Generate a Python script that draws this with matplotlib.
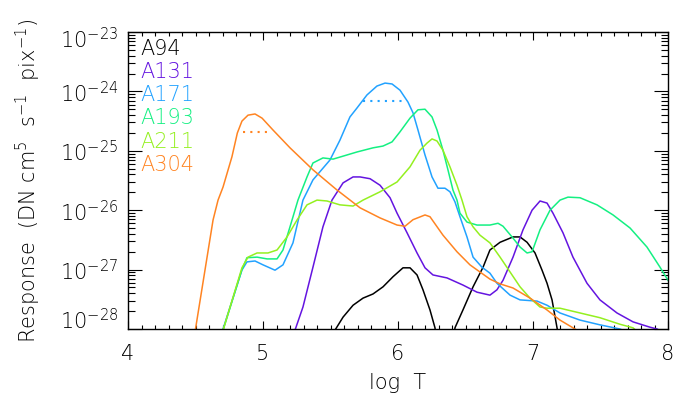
import numpy as np
import matplotlib
matplotlib.use("Agg")
import matplotlib.pyplot as plt
import matplotlib.transforms as mtransforms
from matplotlib.ticker import LogLocator, NullFormatter, MultipleLocator

# log T and log10(response)
t94 = [5.50, 5.533, 5.593, 5.667, 5.741, 5.815, 5.889, 5.963, 6.037, 6.089, 6.141, 6.185,
       6.237, 6.274, 6.35, 6.422, 6.481, 6.556, 6.630, 6.681, 6.756, 6.852, 6.904, 6.956,
       7.015, 7.067, 7.104, 7.141, 7.178, 7.22]
r94 = [-28.5, -28.02, -27.80, -27.60, -27.48, -27.41, -27.29, -27.12, -26.97, -26.97, -27.09, -27.34,
       -27.68, -27.98, -29.5, -27.98, -27.68, -27.29, -26.96, -26.67, -26.54, -26.45, -26.45, -26.54,
       -26.72, -27.01, -27.23, -27.51, -27.98, -28.6]

t131 = [5.20, 5.237, 5.296, 5.370, 5.444, 5.511, 5.593, 5.667, 5.719, 5.793, 5.867, 5.941,
        5.993, 6.067, 6.141, 6.200, 6.259, 6.363, 6.481, 6.585, 6.681, 6.733, 6.778, 6.852,
        6.926, 6.993, 7.052, 7.104, 7.148, 7.222, 7.296, 7.400, 7.496, 7.622, 7.741, 7.867,
        7.919, 8.0]
r131 = [-28.6, -28.02, -27.63, -26.96, -26.28, -25.83, -25.54, -25.44, -25.44, -25.47, -25.58, -25.79,
        -26.05, -26.38, -26.72, -26.97, -27.09, -27.14, -27.26, -27.38, -27.43, -27.34, -27.18, -26.79,
        -26.33, -26.00, -25.845, -25.88, -26.05, -26.38, -26.79, -27.23, -27.51, -27.73, -27.88, -27.97,
        -28.0, -28.1]

t171 = [4.68, 4.704, 4.844, 4.881, 4.941, 5.000, 5.089, 5.148, 5.222, 5.296, 5.370, 5.496,
        5.570, 5.644, 5.696, 5.770, 5.844, 5.904, 5.956, 6.015, 6.074, 6.111, 6.148, 6.200,
        6.252, 6.296, 6.348, 6.385, 6.422, 6.459, 6.511, 6.556, 6.622, 6.681, 6.733, 6.830,
        6.904, 7.030, 7.104, 7.200, 7.348, 7.496, 7.644, 7.75]
r171 = [-28.4, -28.0, -27.007, -26.87, -26.855, -26.92, -27.01, -26.92, -26.55, -25.83, -25.49, -25.155,
        -24.82, -24.43, -24.28, -24.06, -23.91, -23.86, -23.875, -23.98, -24.18, -24.36, -24.65, -25.07,
        -25.44, -25.63, -25.63, -25.69, -25.86, -26.11, -26.45, -26.79, -26.96, -27.06, -27.23, -27.43,
        -27.51, -27.53, -27.60, -27.73, -27.85, -27.93, -28.0, -28.1]

t193 = [4.68, 4.704, 4.844, 4.881, 4.956, 5.030, 5.104, 5.148, 5.200, 5.259, 5.326, 5.370,
        5.444, 5.519, 5.593, 5.696, 5.815, 5.889, 5.956, 6.015, 6.089, 6.148, 6.200, 6.252,
        6.289, 6.333, 6.370, 6.407, 6.437, 6.459, 6.511, 6.585, 6.681, 6.741, 6.778, 6.852,
        6.904, 6.956, 6.993, 7.052, 7.126, 7.200, 7.259, 7.348, 7.474, 7.593, 7.719, 7.844,
        7.941, 8.0]
r193 = [-28.4, -28.02, -27.0, -26.80, -26.79, -26.82, -26.82, -26.67, -26.28, -25.83, -25.44, -25.205,
        -25.12, -25.14, -25.09, -25.02, -24.95, -24.92, -24.85, -24.68, -24.45, -24.31, -24.30, -24.43,
        -24.65, -24.99, -25.32, -25.66, -25.83, -26.05, -26.20, -26.25, -26.25, -26.22, -26.27, -26.47,
        -26.62, -26.72, -26.70, -26.33, -26.00, -25.83, -25.78, -25.79, -25.91, -26.08, -26.30, -26.62,
        -26.96, -27.18]

t211 = [4.68, 4.704, 4.844, 4.889, 4.956, 5.037, 5.104, 5.178, 5.252, 5.326, 5.400, 5.474,
        5.570, 5.667, 5.741, 5.867, 5.993, 6.089, 6.163, 6.215, 6.252, 6.289, 6.333, 6.385,
        6.437, 6.474, 6.511, 6.556, 6.607, 6.681, 6.756, 6.830, 6.904, 6.978, 7.052, 7.104,
        7.200, 7.348, 7.496, 7.644, 7.741, 7.80]
r211 = [-28.4, -28.02, -26.97, -26.79, -26.72, -26.72, -26.67, -26.45, -26.165, -25.91, -25.83, -25.845,
        -25.91, -25.93, -25.83, -25.69, -25.525, -25.27, -24.99, -24.87, -24.80, -24.835, -24.99, -25.27,
        -25.58, -25.83, -26.11, -26.28, -26.42, -26.55, -26.79, -27.04, -27.29, -27.48, -27.63, -27.65,
        -27.65, -27.73, -27.81, -27.92, -27.98, -28.1]

t304 = [4.46, 4.50, 4.630, 4.667, 4.704, 4.770, 4.81, 4.844, 4.889, 4.941, 4.993, 5.074, 5.200,
        5.370, 5.548, 5.719, 5.867, 5.993, 6.052, 6.111, 6.200, 6.237, 6.333, 6.437, 6.533,
        6.681, 6.756, 6.852, 6.978, 7.104, 7.200, 7.296, 7.333, 7.40]
r304 = [-28.6, -28.0, -26.165, -25.83, -25.61, -25.10, -24.70, -24.50, -24.40, -24.38, -24.45, -24.65, -24.95,
        -25.32, -25.66, -25.96, -26.13, -26.25, -26.27, -26.16, -26.08, -26.11, -26.42, -26.70, -26.92,
        -27.16, -27.24, -27.31, -27.48, -27.68, -27.85, -27.98, -28.03, -28.2]

# dotted markers (start, end, level)
dot171 = [5.74, 6.03, -24.16]
dot304 = [4.85, 5.04, -24.68]

names = ["A94", "A131", "A171", "A193", "A211", "A304"]
colors = ["black", "#6414e0", "#22a2ff", "#14f082", "#94f020", "#ff8422"]
temps = [t94, t131, t171, t193, t211, t304]
resps = [r94, r131, r171, r193, r211, r304]

plt.rcParams['font.family'] = ['DejaVu Sans']
plt.rcParams['font.weight'] = 'light'
plt.rcParams['axes.labelweight'] = 'light'

fig = plt.figure(figsize=(6.9, 4.0), dpi=100)
ax = fig.add_axes([128/690, 1 - 329/400, 540/690, 297/400])

for t, r, c in zip(temps, resps, colors):
    ax.plot(t, 10.0 ** np.array(r), color=c, linewidth=1.1)

ax.plot([dot171[0], dot171[1]], [10 ** dot171[2]] * 2, color=colors[2], linestyle=(0, (1, 2.5)), linewidth=1.5)
ax.plot([dot304[0], dot304[1]], [10 ** dot304[2]] * 2, color=colors[5], linestyle=(0, (1, 2.5)), linewidth=1.5)

ax.set_yscale('log')
ax.set_xlim(4, 8)
ax.set_ylim(1e-28, 1e-23)

ax.xaxis.set_major_locator(MultipleLocator(1))
ax.xaxis.set_minor_locator(MultipleLocator(0.1))
ax.yaxis.set_minor_locator(LogLocator(base=10, subs=np.arange(2, 10), numticks=10))
ax.yaxis.set_minor_formatter(NullFormatter())

ytk = [1e-28, 1e-27, 1e-26, 1e-25, 1e-24, 1e-23]
ax.set_yticks(ytk)
ax.set_yticklabels([r'$\mathregular{10^{%d}}$' % e for e in range(-28, -22)])

ax.tick_params(which='both', direction='in', top=True, right=True, width=0.8, color='black')
ax.tick_params(axis='x', which='major', length=6, pad=11, labelsize=15)
ax.tick_params(axis='x', which='minor', length=3)
ax.tick_params(axis='y', which='major', length=10, pad=7, labelsize=15)
ax.tick_params(axis='y', which='minor', length=5)
for s in ax.spines.values():
    s.set_linewidth(1.0)

# shift end labels inward as in the reference
labs = ax.get_yticklabels()
labs[0].set_transform(labs[0].get_transform() + mtransforms.ScaledTranslation(0, 10/100, fig.dpi_scale_trans))
labs[-1].set_transform(labs[-1].get_transform() + mtransforms.ScaledTranslation(0, -6/100, fig.dpi_scale_trans))

ax.set_xlabel('log  T', fontsize=15, labelpad=6, fontweight='light')
ax.set_ylabel(r'Response  (DN cm$^{\mathregular{5}}$  s$^{\mathregular{-1}}$  pix$^{\mathregular{-1}}$)',
              fontsize=15, labelpad=12, fontweight='light')

for i, (n, c) in enumerate(zip(names, colors)):
    ax.text(0.022, 0.943 - i * 0.078, n, color=c, fontsize=15, transform=ax.transAxes,
            ha='left', va='center')

fig.savefig('out.png', dpi=100)
